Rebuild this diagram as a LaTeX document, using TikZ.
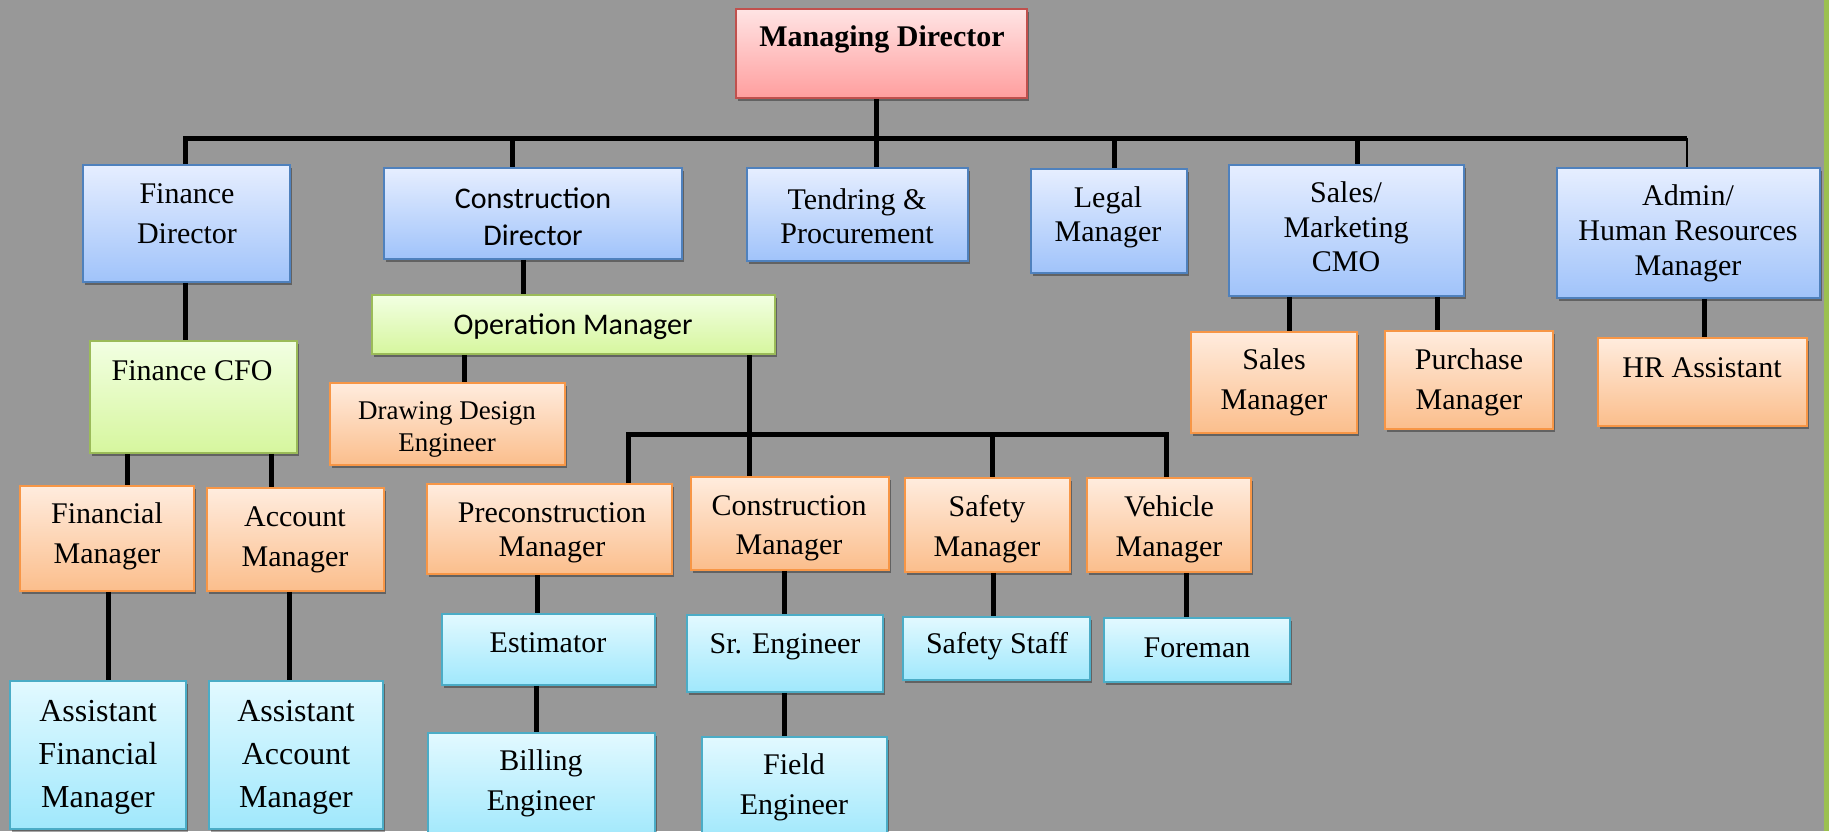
\documentclass[tikz,border=0pt]{standalone}
\usepackage{fontspec}
\setmainfont{Liberation Serif}
\newfontfamily\calfont{Carlito}
\usetikzlibrary{shadows}
\definecolor{bgc}{RGB}{152,152,152}
\definecolor{bluetop}{RGB}{230,238,255}
\definecolor{bluebot}{RGB}{160,195,250}
\definecolor{bluebd}{RGB}{79,129,189}
\definecolor{pinktop}{RGB}{255,228,228}
\definecolor{pinkbot}{RGB}{255,158,158}
\definecolor{pinkbd}{RGB}{192,80,77}
\definecolor{greentop}{RGB}{242,255,226}
\definecolor{greenbot}{RGB}{214,246,158}
\definecolor{greenbd}{RGB}{155,187,89}
\definecolor{orangetop}{RGB}{255,236,222}
\definecolor{orangebot}{RGB}{251,190,140}
\definecolor{orangebd}{RGB}{247,150,70}
\definecolor{cyantop}{RGB}{226,249,255}
\definecolor{cyanbot}{RGB}{160,232,252}
\definecolor{cyanbd}{RGB}{75,172,198}
\definecolor{stripc}{RGB}{155,192,80}
\newcommand\obox[6]{\node[#1, minimum width={(#5-#3)*0.5pt}, minimum height={(#6-#4)*0.5pt}] (#2) at ({(#3+#5)/2},{(#4+#6)/2}) {};}
\begin{document}
\begin{tikzpicture}[x=0.5pt,y=-0.5pt,
  orgbox/.style={rectangle, inner sep=0pt, line width=0.9pt,
    drop shadow={shadow xshift=1.2pt, shadow yshift=-1.5pt, opacity=0.35, fill=black}},
  bluebox/.style={orgbox, draw=bluebd, top color=bluetop, bottom color=bluebot},
  pinkbox/.style={orgbox, draw=pinkbd, top color=pinktop, bottom color=pinkbot},
  greenbox/.style={orgbox, draw=greenbd, top color=greentop, bottom color=greenbot},
  orangebox/.style={orgbox, draw=orangebd, top color=orangetop, bottom color=orangebot},
  cyanbox/.style={orgbox, draw=cyanbd, top color=cyantop, bottom color=cyanbot},
  txt/.style={align=center, inner sep=0pt, font=\fontsize{15}{20}\selectfont},
  tighttxt/.style={align=center, inner sep=0pt, font=\fontsize{15}{17}\selectfont},
  caltxt/.style={align=center, inner sep=0pt, font=\calfont\fontsize{15}{18.5}\selectfont},
  conn/.style={line width=2.5pt, black},
  thinconn/.style={line width=0.7pt, black}]
\clip (0,0) rectangle (1829,831);
\fill[bgc] (0,0) rectangle (1829,831);
\fill[stripc] (1824,0) rectangle (1829,831);

% boxes
\obox{pinkbox}{md}{736}{9}{1027}{98}
\obox{bluebox}{fd}{83}{165}{290}{282}
\obox{bluebox}{cd}{384}{168}{682}{259}
\obox{bluebox}{tp}{747}{168}{968}{261}
\obox{bluebox}{lg}{1031}{169}{1187}{273}
\obox{bluebox}{cmo}{1229}{165}{1464}{296}
\obox{bluebox}{adm}{1557}{168}{1820}{298}
\obox{greenbox}{om}{372}{295}{775}{354}
\obox{greenbox}{cfo}{90}{341}{297}{453}
\obox{orangebox}{dde}{330}{383}{565}{465}
\obox{orangebox}{sm}{1191}{332}{1357}{433}
\obox{orangebox}{pm}{1385}{331}{1553}{429}
\obox{orangebox}{hra}{1598}{338}{1807}{426}
\obox{orangebox}{fm}{20}{486}{194}{591}
\obox{orangebox}{am}{207}{488}{384}{591}
\obox{orangebox}{pcm}{427}{484}{672}{574}
\obox{orangebox}{cm}{691}{477}{889}{570}
\obox{orangebox}{sfm}{905}{478}{1070}{572}
\obox{orangebox}{vm}{1087}{478}{1251}{572}
\obox{cyanbox}{est}{442}{614}{655}{685}
\obox{cyanbox}{sre}{687}{615}{883}{692}
\obox{cyanbox}{sst}{903}{617}{1090}{680}
\obox{cyanbox}{frm}{1104}{618}{1290}{682}
\obox{cyanbox}{afm}{10}{681}{186}{829}
\obox{cyanbox}{aam}{209}{681}{383}{829}
\obox{cyanbox}{bill}{428}{733}{655}{840}
\obox{cyanbox}{fld}{702}{737}{887}{840}

% texts
\node[txt, font=\bfseries\fontsize{15}{18}\selectfont] (md-t) at (882,39) {Managing Director};
\node[txt] (fd-t) at (187,214) {Finance\\Director};
\node[caltxt] (cd-t) at (533,217) {Construction\\Director};
\node[tighttxt] (tp-t) at (857,216) {Tendring \&\\Procurement};
\node[tighttxt] (lg-t) at (1108,217) {Legal\\Manager};
\node[txt, font=\fontsize{15}{17.3}\selectfont] (cmo-t) at (1346,227) {Sales/\\Marketing\\CMO};
\node[txt, font=\fontsize{15}{17.5}\selectfont] (adm-t) at (1688,233.5) {Admin/\\Human Resources\\Manager};
\node[caltxt] (om-t) at (573,326.5) {Operation Manager};
\node[txt] (cfo-t) at (192,370.5) {Finance CFO};
\node[txt, font=\fontsize{13.5}{16}\selectfont] (dde-t) at (447,429.5) {Drawing Design\\Engineer};
\node[txt] (sm-t) at (1274,382.5) {Sales\\Manager};
\node[txt] (pm-t) at (1469,382.5) {Purchase\\Manager};
\node[txt] (hra-t) at (1702,367.5) {HR Assistant};
\node[txt] (fm-t) at (107,536.5) {Financial\\Manager};
\node[txt] (am-t) at (295,539.5) {Account\\Manager};
\node[tighttxt] (pcm-t) at (552,533) {Preconstruction\\Manager};
\node[txt, font=\fontsize{15}{19.5}\selectfont] (cm-t) at (789,528) {Construction\\Manager};
\node[txt] (sfm-t) at (987,529.5) {Safety\\Manager};
\node[txt] (vm-t) at (1169,529.5) {Vehicle\\Manager};
\node[txt] (est-t) at (548,642.5) {Estimator};
\node[txt] (sre-t) at (785,646.5) {Sr. Engineer};
\node[txt] (sst-t) at (997,646.5) {Safety Staff};
\node[txt] (frm-t) at (1197,647.5) {Foreman};
\node[txt, font=\fontsize{16}{21.5}\selectfont] (afm-t) at (98,757) {Assistant\\Financial\\Manager};
\node[txt, font=\fontsize{16}{21.5}\selectfont] (aam-t) at (296,757) {Assistant\\Account\\Manager};
\node[txt] (bill-t) at (541,783.5) {Billing\\Engineer};
\node[txt] (fld-t) at (794,787.5) {Field\\Engineer};

% connectors
\coordinate (busL) at (185,138);
\coordinate (busR) at (1687,138);
\draw[conn] (185,0 |- fd.north) -- (busL) -- (busR);
\draw[thinconn] (busR) -- (1687,0 |- adm.north);
\draw[conn] (876,0 |- md.south) -- (876,0 |- tp.north);
\draw[conn] (512,0 |- busL) -- (512,0 |- cd.north);
\draw[conn] (1114,0 |- busL) -- (1114,0 |- lg.north);
\draw[conn] (1357,0 |- busL) -- (1357,0 |- cmo.north);
\draw[conn] (523,0 |- cd.south) -- (523,0 |- om.north);
\draw[conn] (464,0 |- om.south) -- (464,0 |- dde.north);
\draw[conn] (185,0 |- fd.south) -- (185,0 |- cfo.north);
\draw[conn] (127,0 |- cfo.south) -- (127,0 |- fm.north);
\draw[conn] (271,0 |- cfo.south) -- (271,0 |- am.north);
\draw[conn] (108,0 |- fm.south) -- (108,0 |- afm.north);
\draw[conn] (289,0 |- am.south) -- (289,0 |- aam.north);
\coordinate (b2L) at (628,434);
\coordinate (b2R) at (1166,434);
\draw[conn] (628,0 |- pcm.north) -- (b2L) -- (b2R) -- (1166,0 |- vm.north);
\draw[conn] (749,0 |- om.south) -- (749,0 |- cm.north);
\draw[conn] (992,0 |- b2L) -- (992,0 |- sfm.north);
\draw[conn] (537,0 |- pcm.south) -- (537,0 |- est.north);
\draw[conn] (536,0 |- est.south) -- (536,0 |- bill.north);
\draw[conn] (784,0 |- cm.south) -- (784,0 |- sre.north);
\draw[conn] (784,0 |- sre.south) -- (784,0 |- fld.north);
\draw[conn] (993,0 |- sfm.south) -- (993,0 |- sst.north);
\draw[conn] (1186,0 |- vm.south) -- (1186,0 |- frm.north);
\draw[conn] (1289,0 |- cmo.south) -- (1289,0 |- sm.north);
\draw[conn] (1437,0 |- cmo.south) -- (1437,0 |- pm.north);
\draw[conn] (1704,0 |- adm.south) -- (1704,0 |- hra.north);
\end{tikzpicture}
\end{document}
